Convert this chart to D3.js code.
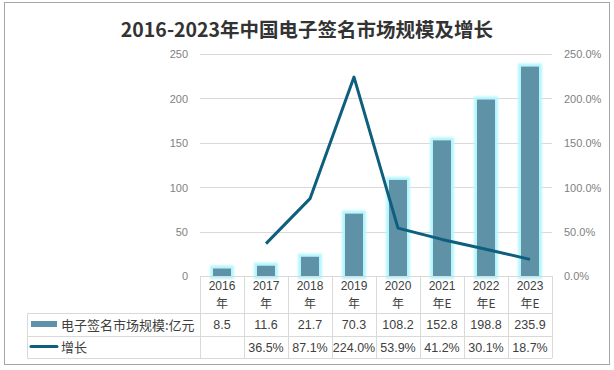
<!DOCTYPE html>
<html>
<head>
<meta charset="utf-8">
<script src="https://cdn.jsdelivr.net/npm/d3@7"></script>
<style>
  body { margin: 0; background: #fff; }
  svg text { font-family: "Liberation Sans", "Noto Sans CJK SC", sans-serif; }
</style>
</head>
<body>
<div id="chart"></div>
<script>
"use strict";

// Data
const years = ["2016", "2017", "2018", "2019", "2020", "2021", "2022", "2023"];
const yearSuffix = ["年", "年", "年", "年", "年", "年E", "年E", "年E"];
const marketSize = [8.5, 11.6, 21.7, 70.3, 108.2, 152.8, 198.8, 235.9]; // 亿元
const growthRate = [null, 36.5, 87.1, 224.0, 53.9, 41.2, 30.1, 18.7]; // %
const leftTicks = [0, 50, 100, 150, 200, 250];
const rightTicks = [0, 50, 100, 150, 200, 250];
const seriesNames = ["电子签名市场规模:亿元", "增长"];
const title = "2016-2023年中国电子签名市场规模及增长";

const width = 614, height = 370;
const plot = { left: 200, right: 552, top: 54, bottom: 276 };
const tableLeft = 27;
const rowY = [276, 313, 336, 358];

const barColor = "#5f91a7";
const lineColor = "#0e5f7d";
const gridColor = "#d9d9d9";

const svg = d3.select("#chart").append("svg")
  .attr("width", width)
  .attr("height", height);

// glow around bars
const defs = svg.append("defs");
const glow = defs.append("filter").attr("id", "glow")
  .attr("x", "-50%").attr("y", "-50%").attr("width", "200%").attr("height", "200%");
glow.append("feMorphology").attr("in", "SourceAlpha").attr("operator", "dilate").attr("radius", 2.5).attr("result", "fat");
glow.append("feGaussianBlur").attr("in", "fat").attr("stdDeviation", 1.2).attr("result", "blur");
glow.append("feFlood").attr("flood-color", "#b4f5fc").attr("result", "col");
glow.append("feComposite").attr("in", "col").attr("in2", "blur").attr("operator", "in").attr("result", "halo");
const merge = glow.append("feMerge");
merge.append("feMergeNode").attr("in", "halo");
merge.append("feMergeNode").attr("in", "SourceGraphic");

// outer frame
svg.append("rect")
  .attr("x", 4.5).attr("y", 2.5)
  .attr("width", 605).attr("height", 362)
  .attr("fill", "#fff").attr("stroke", "#a6a6a6").attr("stroke-width", 1);

// title
svg.append("text")
  .attr("x", 307).attr("y", 37)
  .attr("text-anchor", "middle")
  .style("font-family", "'Noto Sans CJK SC', sans-serif")
  .style("font-size", "19.5px")
  .style("font-weight", "bold")
  .style("fill", "#333")
  .text(title);

// scales
const x = d3.scaleBand().domain(years).range([plot.left, plot.right]);
const yLeft = d3.scaleLinear().domain([0, 250]).range([plot.bottom, plot.top]);
const yRight = d3.scaleLinear().domain([0, 250]).range([plot.bottom, plot.top]);

// gridlines
svg.append("g").selectAll("line")
  .data(leftTicks)
  .join("line")
  .attr("x1", plot.left).attr("x2", plot.right)
  .attr("y1", d => Math.round(yLeft(d)) + 0.5)
  .attr("y2", d => Math.round(yLeft(d)) + 0.5)
  .attr("stroke", gridColor);

// left axis labels
const leftAxis = d3.axisLeft(yLeft).tickValues(leftTicks).tickSize(0).tickPadding(0);
svg.append("g")
  .attr("transform", "translate(188,0)")
  .call(leftAxis)
  .call(g => g.select(".domain").remove())
  .call(g => g.selectAll("text").style("font-size", "11px").style("fill", "#7f7f7f").attr("dy", "0.35em"));

// right axis labels
const rightAxis = d3.axisRight(yRight).tickValues(rightTicks).tickSize(0).tickPadding(0)
  .tickFormat(d => d.toFixed(1) + "%");
svg.append("g")
  .attr("transform", "translate(564,0)")
  .call(rightAxis)
  .call(g => g.select(".domain").remove())
  .call(g => g.selectAll("text").style("font-size", "11px").style("fill", "#7f7f7f").attr("dy", "0.35em"));

// bars
const barW = 18;
svg.append("g").selectAll("rect")
  .data(marketSize)
  .join("rect")
  .attr("x", (d, i) => x(years[i]) + x.bandwidth() / 2 - barW / 2)
  .attr("y", d => yLeft(d))
  .attr("width", barW)
  .attr("height", d => yLeft(0) - yLeft(d))
  .attr("fill", barColor)
  .attr("filter", "url(#glow)");

// growth line
const line = d3.line()
  .defined(d => d.v != null)
  .x(d => x(d.year) + x.bandwidth() / 2)
  .y(d => yRight(d.v));
svg.append("path")
  .datum(years.map((y, i) => ({ year: y, v: growthRate[i] })))
  .attr("d", line)
  .attr("fill", "none")
  .attr("stroke", lineColor)
  .attr("stroke-width", 3)
  .attr("stroke-linejoin", "round");

// data table
const table = svg.append("g");
const tl = (x1, y1, x2, y2) => table.append("line")
  .attr("x1", x1).attr("y1", y1).attr("x2", x2).attr("y2", y2)
  .attr("stroke", gridColor).attr("stroke-width", 1);

tl(plot.left, rowY[0] + 0.5, plot.right, rowY[0] + 0.5);
[1, 2, 3].forEach(r => tl(tableLeft, rowY[r] + 0.5, plot.right, rowY[r] + 0.5));
tl(tableLeft + 0.5, rowY[1], tableLeft + 0.5, rowY[3]);
x.domain().forEach(y => tl(Math.round(x(y)) + 0.5, rowY[0], Math.round(x(y)) + 0.5, rowY[3]));
tl(plot.right + 0.5, rowY[0], plot.right + 0.5, rowY[3]);

const cellStyle = s => s.style("font-size", "12.5px").style("fill", "#404040").attr("text-anchor", "middle");

// header: years
years.forEach((y, i) => {
  const cx = x(y) + x.bandwidth() / 2;
  table.append("text").attr("x", cx).attr("y", 289.5).text(y).call(cellStyle)
    .style("font-size", "12px");
  table.append("text").attr("x", cx).attr("y", 307.5).text(yearSuffix[i]).call(cellStyle)
    .style("font-size", "12px")
    .style("font-family", "'Noto Sans CJK SC', sans-serif");
});

// values rows
marketSize.forEach((v, i) => {
  table.append("text").attr("x", x(years[i]) + x.bandwidth() / 2).attr("y", 329)
    .text(v.toFixed(1)).call(cellStyle);
});
growthRate.forEach((v, i) => {
  if (v == null) return;
  table.append("text").attr("x", x(years[i]) + x.bandwidth() / 2).attr("y", 352)
    .text(v.toFixed(1) + "%").call(cellStyle);
});

// legend keys in table
table.append("rect").attr("x", 31).attr("y", 321).attr("width", 26).attr("height", 6).attr("fill", barColor);
table.append("line").attr("x1", 31).attr("x2", 57).attr("y1", 346.5).attr("y2", 346.5)
  .attr("stroke", lineColor).attr("stroke-width", 3).attr("stroke-linecap", "round");
seriesNames.forEach((n, i) => {
  table.append("text").attr("x", 61).attr("y", i === 0 ? 329.5 : 352)
    .style("font-family", "'Noto Sans CJK SC', sans-serif")
    .style("font-size", "13px").style("fill", "#404040")
    .text(n);
});
</script>
</body>
</html>
